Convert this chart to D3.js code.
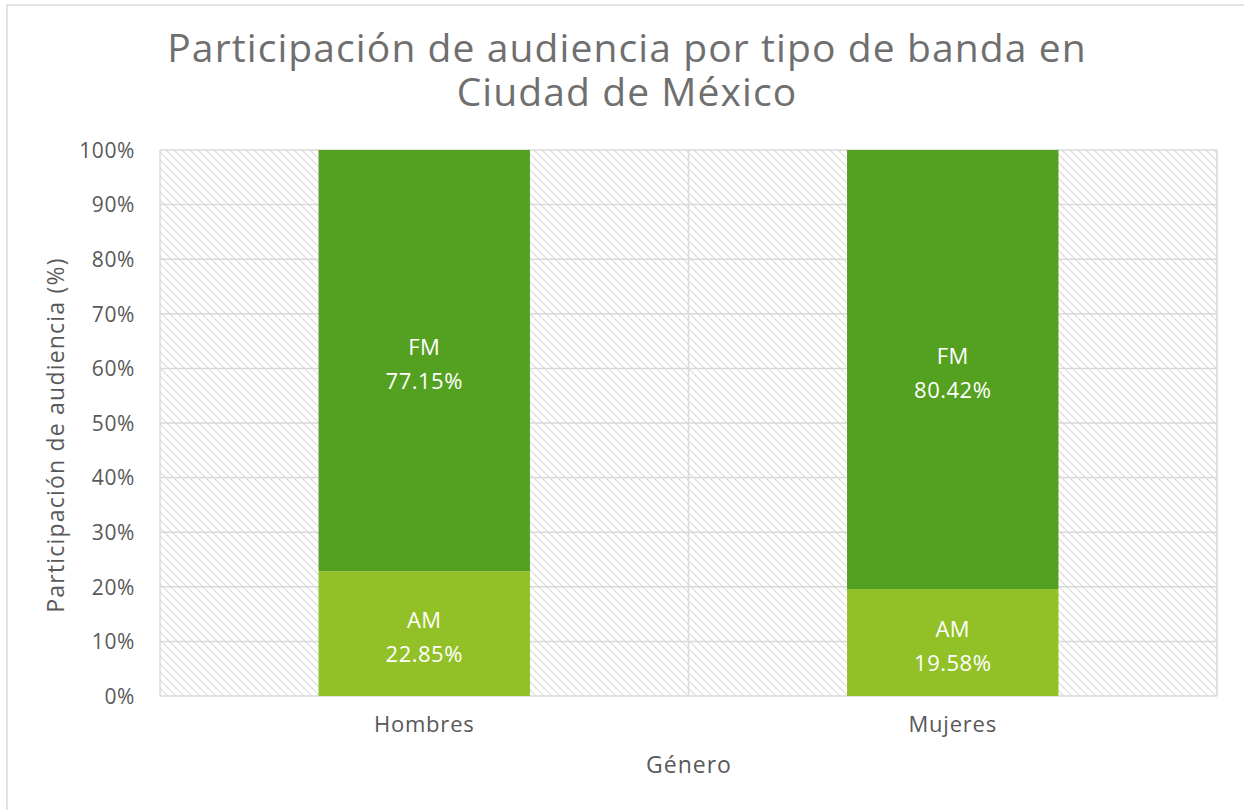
<!DOCTYPE html>
<html>
<head>
<meta charset="utf-8">
<script src="https://cdn.jsdelivr.net/npm/d3@7"></script>
<style>
  body { margin: 0; background: #fff; }
  text { font-family: "Open Sans", "Noto Sans", sans-serif; font-weight: 400; }
</style>
</head>
<body>
<div id="chart"></div>
<script>
var categories = ['Hombres', 'Mujeres'];
var seriesNames = ['AM', 'FM'];
var amValues = [22.85, 19.58];
var fmValues = [77.15, 80.42];
var yTicks = [0, 10, 20, 30, 40, 50, 60, 70, 80, 90, 100];
var titleLines = ['Participación de audiencia por tipo de banda en', 'Ciudad de México'];
var xTitle = 'Género', yTitle = 'Participación de audiencia (%)';

var W = 1244, H = 810;
var plot = { left: 160, right: 1217, top: 150, bottom: 696 };
var colors = { AM: '#91c126', FM: '#54a021' };

var svg = d3.select('#chart').append('svg').attr('width', W).attr('height', H);

// hatch pattern for plot background
var defs = svg.append('defs');
var pat = defs.append('pattern')
    .attr('id', 'hatch').attr('patternUnits', 'userSpaceOnUse')
    .attr('width', 8).attr('height', 8);
pat.append('rect').attr('width', 8).attr('height', 8).attr('fill', '#fff');
pat.append('path').attr('d', 'M-2,-2L10,10M-2,6L2,10M6,-2L10,2')
    .attr('stroke', '#d6d6d6').attr('stroke-width', 1.6).attr('stroke-dasharray', '1.5,1');

// chart border
svg.append('rect').attr('x', 7).attr('y', 5).attr('width', W).attr('height', H)
    .attr('fill', 'none').attr('stroke', '#d9d9d9').attr('stroke-width', 1.5);

// title (one text, two lines)
var title = svg.append('text').attr('text-anchor', 'middle').attr('font-size', 39)
    .attr('font-weight', 300).attr('letter-spacing', 1.1).attr('fill', '#6f6f6f');
title.selectAll('tspan').data(titleLines).enter().append('tspan')
    .attr('x', 627).attr('y', function (d, i) { return 62 + i * 44; })
    .text(function (d) { return d; });

var x = d3.scaleBand().domain(categories).range([plot.left, plot.right]).padding(0);
var y = d3.scaleLinear().domain([0, 100]).range([plot.bottom, plot.top]);

svg.append('rect').attr('x', plot.left).attr('y', plot.top)
    .attr('width', plot.right - plot.left).attr('height', plot.bottom - plot.top)
    .attr('fill', 'url(#hatch)');

// gridlines
var grid = svg.append('g').attr('stroke', '#d9d9d9').attr('stroke-width', 1.5);
grid.selectAll('line.h').data(yTicks).enter().append('line').attr('class', 'h')
    .attr('x1', plot.left).attr('x2', plot.right)
    .attr('y1', function (d) { return y(d); }).attr('y2', function (d) { return y(d); });
var vlines = [plot.left].concat(categories.map(function (c) { return x(c) + x.bandwidth(); }));
grid.selectAll('line.v').data(vlines).enter().append('line').attr('class', 'v')
    .attr('x1', function (d) { return d; }).attr('x2', function (d) { return d; })
    .attr('y1', plot.top).attr('y2', plot.bottom);

// stacked data
var rows = categories.map(function (c, i) { return { cat: c, AM: amValues[i], FM: fmValues[i] }; });
var stacked = d3.stack().keys(seriesNames)(rows);
var barW = x.bandwidth() * 0.4;

var layers = svg.append('g').selectAll('g').data(stacked).enter().append('g')
    .attr('fill', function (d) { return colors[d.key]; });
layers.selectAll('rect').data(function (d) { return d; }).enter().append('rect')
    .attr('x', function (d) { return x(d.data.cat) + (x.bandwidth() - barW) / 2; })
    .attr('width', barW)
    .attr('y', function (d) { return y(d[1]); })
    .attr('height', function (d) { return y(d[0]) - y(d[1]); });

// data labels
stacked.forEach(function (s) {
    s.forEach(function (d) {
        var cx = x(d.data.cat) + x.bandwidth() / 2;
        var cy = (y(d[0]) + y(d[1])) / 2;
        var t = svg.append('text').attr('text-anchor', 'middle').attr('fill', '#fff')
            .attr('font-size', 22).attr('letter-spacing', 0.5);
        t.append('tspan').attr('x', cx).attr('y', cy - 6).text(s.key);
        t.append('tspan').attr('x', cx).attr('y', cy + 28).text(d.data[s.key].toFixed(2) + '%');
    });
});

// y axis labels
var yAxis = svg.append('g').attr('transform', 'translate(' + (plot.left - 22) + ',0)')
    .call(d3.axisLeft(y).tickValues(yTicks).tickSize(0).tickFormat(function (d) { return d + '%'; }));
yAxis.select('.domain').remove();
yAxis.selectAll('text').attr('font-size', 21).attr('fill', '#595959').attr('letter-spacing', 0.6)
    .attr('font-family', '"Open Sans", sans-serif').attr('dy', '0.35em');

// x axis labels
var xAxis = svg.append('g').attr('transform', 'translate(0,' + (plot.bottom + 17) + ')')
    .call(d3.axisBottom(x).tickSize(0));
xAxis.select('.domain').remove();
xAxis.selectAll('text').attr('font-size', 22).attr('fill', '#595959').attr('letter-spacing', 0.8)
    .attr('font-family', '"Open Sans", sans-serif');

// axis titles
svg.append('text').attr('x', 689).attr('y', 773).attr('text-anchor', 'middle')
    .attr('font-size', 23).attr('letter-spacing', 1).attr('fill', '#595959').text(xTitle);
svg.append('text').attr('transform', 'translate(64,435) rotate(-90)').attr('text-anchor', 'middle')
    .attr('font-size', 23).attr('letter-spacing', 1.2).attr('fill', '#595959').text(yTitle);
</script>
</body>
</html>
